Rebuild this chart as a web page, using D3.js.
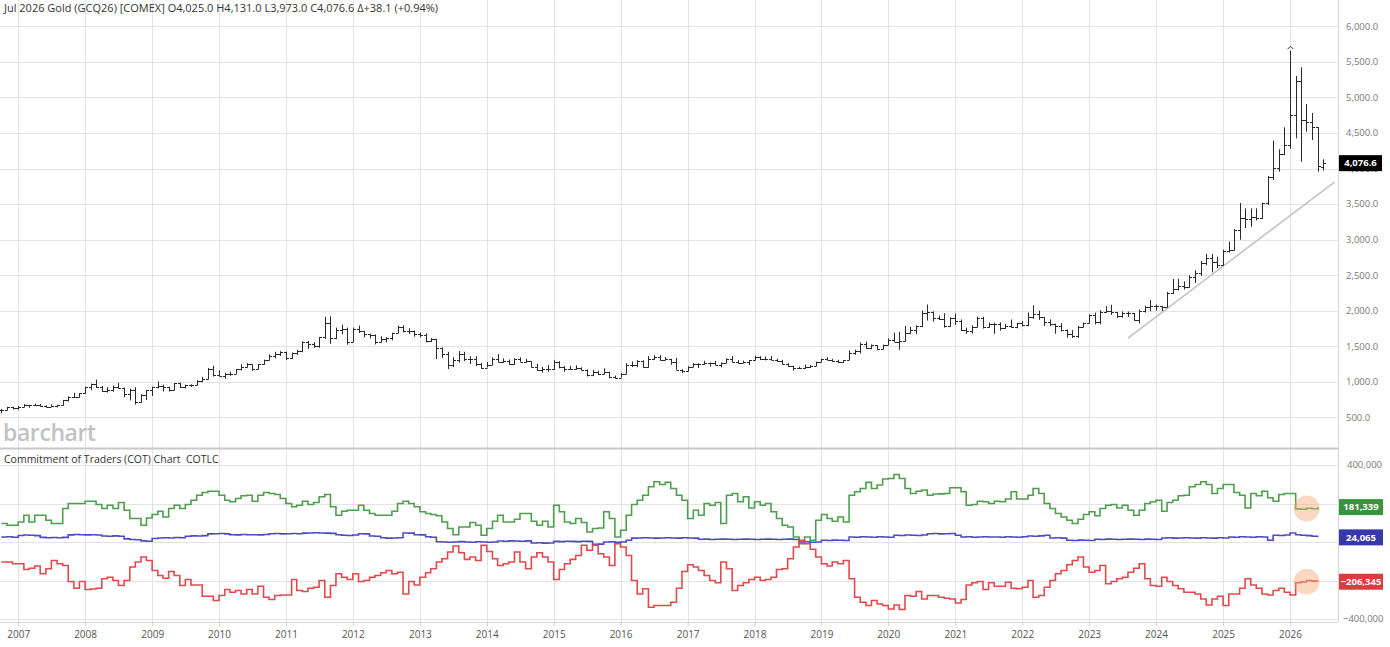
<!DOCTYPE html>
<html lang="en">
<head>
    <meta charset="UTF-8">
    <title>Gold COT</title>
    <script src="https://cdn.jsdelivr.net/npm/d3@7"></script>
    <style>
        body { margin: 0; background: #fff; }
        text { font-family: "Open Sans", sans-serif; }
    </style>
</head>
<body>
    <div id="chart-space"></div>

    <script>
        // monthly bars, Oct 2006 .. Jul 2026
        var months = d3.timeMonth.range(new Date(2006, 9, 1), new Date(2026, 7, 1));

        var opens = [
            599, 606, 648,
            635, 652, 672, 669, 680, 660, 653, 668, 673, 744, 794, 786,
            838, 926, 975, 933, 866, 888, 930, 918, 834, 880, 718, 813,
            884, 928, 942, 924, 887, 979, 927, 955, 955, 1008, 1040, 1182,
            1096, 1081, 1118, 1115, 1180, 1212, 1245, 1181, 1248, 1308, 1359, 1386,
            1421, 1333, 1411, 1439, 1556, 1536, 1500, 1628, 1828, 1624, 1725, 1746,
            1566, 1740, 1710, 1669, 1664, 1562, 1604, 1615, 1691, 1775, 1719, 1712,
            1675, 1662, 1578, 1598, 1476, 1393, 1234, 1314, 1396, 1327, 1323, 1250,
            1202, 1240, 1326, 1284, 1296, 1250, 1322, 1283, 1287, 1210, 1171, 1175,
            1184, 1279, 1213, 1183, 1184, 1190, 1172, 1095, 1135, 1115, 1142, 1065,
            1061, 1118, 1238, 1233, 1293, 1215, 1321, 1351, 1309, 1316, 1277, 1173,
            1152, 1211, 1249, 1249, 1268, 1268, 1242, 1269, 1322, 1280, 1271, 1275,
            1303, 1345, 1318, 1325, 1315, 1299, 1253, 1224, 1201, 1192, 1215, 1222,
            1282, 1321, 1313, 1292, 1284, 1305, 1413, 1437, 1529, 1472, 1513, 1464,
            1517, 1587, 1566, 1577, 1687, 1730, 1781, 1975, 1978, 1895, 1879, 1780,
            1895, 1850, 1728, 1715, 1768, 1905, 1771, 1817, 1818, 1757, 1784, 1775,
            1829, 1796, 1910, 1954, 1911, 1848, 1817, 1782, 1726, 1672, 1640, 1768,
            1826, 1945, 1836, 1986, 1999, 1982, 1929, 1970, 1966, 1867, 1995, 2057,
            2072, 2067, 2054, 2254, 2303, 2346, 2339, 2473, 2537, 2668, 2748, 2680,
            2641, 2835, 2860, 3140, 3305, 3290, 3324, 3300, 3512, 3880, 4005, 4205,
            4332, 4750, 5236, 4690, 4650, 4580, 4025
        ];
        var highs = [
            620, 650, 650,
            660, 690, 672, 695, 690, 673, 684, 678, 747, 796, 848, 842,
            934, 976, 1033, 943, 925, 948, 988, 920, 905, 925, 828, 889,
            933, 1007, 962, 930, 983, 990, 961, 966, 1024, 1071, 1195, 1227,
            1163, 1127, 1145, 1182, 1249, 1266, 1246, 1249, 1313, 1388, 1424, 1432,
            1424, 1414, 1448, 1569, 1577, 1560, 1632, 1917, 1923, 1764, 1804, 1764,
            1764, 1792, 1718, 1679, 1667, 1642, 1629, 1692, 1790, 1797, 1755, 1723,
            1696, 1683, 1617, 1605, 1487, 1424, 1348, 1434, 1424, 1361, 1361, 1267,
            1280, 1345, 1392, 1331, 1315, 1332, 1345, 1324, 1288, 1256, 1209, 1238,
            1307, 1292, 1221, 1225, 1233, 1205, 1175, 1170, 1157, 1192, 1143, 1089,
            1127, 1263, 1287, 1306, 1304, 1362, 1375, 1375, 1352, 1326, 1338, 1180,
            1220, 1264, 1262, 1297, 1273, 1296, 1274, 1331, 1362, 1306, 1299, 1309,
            1366, 1362, 1356, 1365, 1326, 1309, 1264, 1228, 1214, 1243, 1237, 1284,
            1326, 1347, 1324, 1310, 1306, 1442, 1453, 1555, 1566, 1527, 1516, 1524,
            1613, 1691, 1704, 1788, 1775, 1795, 2005, 2089, 1992, 1933, 1966, 1908,
            1962, 1878, 1763, 1797, 1919, 1916, 1835, 1834, 1837, 1813, 1877, 1831,
            1855, 1977, 2079, 2003, 1912, 1880, 1820, 1826, 1735, 1730, 1786, 1833,
            1950, 1975, 2009, 2064, 2085, 1985, 1990, 1990, 1970, 2019, 2072, 2152,
            2088, 2070, 2265, 2448, 2450, 2412, 2500, 2570, 2700, 2801, 2800, 2760,
            2860, 2975, 3150, 3516, 3441, 3441, 3441, 3521, 3896, 4393, 4271, 4581,
            5658, 5302, 5425, 4908, 4782, 4585, 4131
        ];
        var lows = [
            560, 604, 612,
            608, 645, 636, 663, 651, 640, 650, 642, 670, 724, 776, 782,
            836, 884, 915, 858, 849, 862, 907, 786, 740, 681, 705, 746,
            802, 909, 866, 865, 881, 915, 908, 930, 951, 995, 1035, 1075,
            1076, 1045, 1087, 1113, 1162, 1204, 1156, 1175, 1242, 1300, 1330, 1365,
            1308, 1324, 1380, 1418, 1462, 1478, 1480, 1604, 1535, 1602, 1669, 1523,
            1562, 1688, 1628, 1612, 1527, 1553, 1556, 1584, 1686, 1697, 1672, 1636,
            1626, 1555, 1562, 1322, 1337, 1180, 1208, 1271, 1292, 1251, 1221, 1185,
            1202, 1238, 1277, 1268, 1240, 1240, 1281, 1273, 1204, 1161, 1130, 1142,
            1168, 1191, 1141, 1170, 1168, 1162, 1077, 1080, 1098, 1107, 1052, 1046,
            1061, 1108, 1208, 1207, 1200, 1200, 1311, 1301, 1304, 1241, 1171, 1123,
            1147, 1208, 1195, 1242, 1214, 1238, 1204, 1265, 1277, 1260, 1264, 1236,
            1302, 1307, 1303, 1310, 1282, 1246, 1211, 1160, 1180, 1182, 1196, 1221,
            1276, 1311, 1281, 1266, 1267, 1305, 1382, 1400, 1465, 1459, 1446, 1459,
            1517, 1563, 1451, 1567, 1670, 1671, 1770, 1863, 1849, 1873, 1764, 1775,
            1802, 1717, 1676, 1678, 1767, 1750, 1760, 1677, 1721, 1745, 1762, 1753,
            1780, 1783, 1890, 1872, 1787, 1785, 1678, 1709, 1622, 1618, 1617, 1765,
            1823, 1809, 1810, 1969, 1942, 1900, 1903, 1913, 1860, 1823, 1975, 1993,
            2002, 1996, 2050, 2240, 2285, 2300, 2325, 2390, 2490, 2640, 2540, 2600,
            2635, 2820, 2850, 3000, 3164, 3183, 3270, 3290, 3490, 3840, 3957, 4191,
            4280, 4426, 4097, 4519, 4402, 3957, 3973
        ];
        var closes = [
            606, 648, 635,
            652, 672, 669, 680, 660, 653, 668, 673, 744, 794, 786, 838,
            926, 975, 933, 866, 888, 930, 918, 834, 880, 718, 813, 884,
            928, 942, 924, 887, 979, 927, 955, 955, 1008, 1040, 1182, 1096,
            1081, 1118, 1115, 1180, 1212, 1245, 1181, 1248, 1308, 1359, 1386, 1421,
            1333, 1411, 1439, 1556, 1536, 1500, 1628, 1828, 1624, 1725, 1746, 1566,
            1740, 1710, 1669, 1664, 1562, 1604, 1615, 1691, 1775, 1719, 1712, 1675,
            1662, 1578, 1598, 1476, 1393, 1234, 1314, 1396, 1327, 1323, 1250, 1202,
            1240, 1326, 1284, 1296, 1250, 1322, 1283, 1287, 1210, 1171, 1175, 1184,
            1279, 1213, 1183, 1184, 1190, 1172, 1095, 1135, 1115, 1142, 1065, 1061,
            1118, 1238, 1233, 1293, 1215, 1321, 1351, 1309, 1316, 1277, 1173, 1152,
            1211, 1249, 1249, 1268, 1268, 1242, 1269, 1322, 1280, 1271, 1275, 1303,
            1345, 1318, 1325, 1315, 1299, 1253, 1224, 1201, 1192, 1215, 1222, 1282,
            1321, 1313, 1292, 1284, 1305, 1413, 1437, 1529, 1472, 1513, 1464, 1517,
            1587, 1566, 1577, 1687, 1730, 1781, 1975, 1978, 1895, 1879, 1780, 1895,
            1850, 1728, 1715, 1768, 1905, 1771, 1817, 1818, 1757, 1784, 1775, 1829,
            1796, 1910, 1954, 1911, 1848, 1817, 1782, 1726, 1672, 1640, 1768, 1826,
            1945, 1836, 1986, 1999, 1982, 1929, 1970, 1966, 1867, 1995, 2057, 2072,
            2067, 2054, 2254, 2303, 2346, 2339, 2473, 2537, 2668, 2748, 2680, 2641,
            2835, 2860, 3140, 3305, 3290, 3324, 3300, 3512, 3880, 4005, 4205, 4332,
            4750, 5236, 4690, 4650, 4580, 4030, 4076.6
        ];

        // support trend line: [month, price]
        var trendStart = [new Date(2023, 7, 1), 1617];
        var trendEnd = [new Date(2026, 8, 1), 3811];

        // COT net positions (thousands of contracts), Oct 2006 .. Jun 2026
        var largeSpecs = [
            96, 87, 87, 104, 139, 104, 139, 139, 113, 96,
            96, 174, 200, 200, 200, 212, 212, 195, 174, 191,
            174, 205, 165, 122, 122, 87, 125, 143, 160, 130,
            174, 191, 174, 195, 217, 243, 257, 264, 264, 243,
            217, 209, 226, 240, 243, 212, 243, 257, 252, 247,
            226, 200, 183, 191, 212, 195, 205, 235, 247, 183,
            139, 160, 165, 165, 191, 165, 148, 139, 139, 139,
            160, 200, 212, 200, 183, 157, 148, 143, 136, 104,
            70, 38, 78, 78, 101, 87, 35, 70, 108, 139,
            104, 104, 118, 148, 148, 108, 87, 108, 78, 191,
            157, 104, 96, 122, 101, 52, 70, 73, 157, 122,
            26, 61, 139, 195, 217, 243, 287, 313, 299, 310,
            278, 243, 217, 122, 165, 139, 200, 191, 205, 96,
            243, 252, 209, 235, 177, 209, 191, 200, 157, 122,
            87, 78, 26, -9, 26, 9, 113, 143, 122, 108,
            130, 104, 243, 261, 278, 310, 278, 296, 327, 330,
            351, 330, 278, 252, 264, 270, 243, 249, 250, 252,
            282, 282, 261, 191, 195, 212, 209, 200, 212, 209,
            223, 261, 223, 223, 243, 278, 252, 200, 174, 148,
            130, 113, 96, 118, 143, 157, 136, 174, 191, 195,
            177, 191, 165, 139, 165, 200, 209, 217, 160, 205,
            217, 240, 243, 287, 299, 313, 299, 252, 278, 299,
            299, 257, 243, 177, 252, 240, 264, 230, 212, 247,
            252, 252, 172, 170, 175, 173, 181.339
        ];
        var smallTraders = [
            26, 27, 25, 34, 36, 35, 33, 24, 22, 23,
            22, 24, 37, 39, 38, 37, 38, 36, 31, 30,
            32, 30, 16, 13, 12, 6, 4, 18, 21, 22,
            21, 23, 22, 30, 32, 31, 33, 42, 43, 44,
            42, 38, 37, 39, 38, 38, 37, 39, 43, 44,
            42, 43, 44, 43, 46, 47, 48, 47, 46, 45,
            38, 35, 34, 36, 43, 42, 31, 30, 22, 20,
            21, 22, 47, 46, 38, 37, 27, 25, 1, 0,
            -1, 0, 2, 0, -1, 1, 0, -1, 0, 5,
            4, 6, 5, 4, 6, -5, -4, -6, -5, 3,
            2, 4, 3, 2, 4, 3, -12, -11, 0, 1,
            -1, 0, 9, 20, 21, 22, 21, 20, 21, 22,
            21, 20, 22, 21, 20, 14, 15, 13, 14, 15,
            14, 13, 14, 15, 14, 13, 14, 15, 14, 13,
            14, 15, 13, 0, 1, -1, 0, 9, 8, 10,
            9, 8, 26, 25, 27, 26, 25, 27, 26, 25,
            35, 34, 36, 35, 34, 36, 43, 44, 42, 43,
            44, 35, 26, 27, 25, 26, 27, 26, 26, 25,
            27, 26, 25, 27, 31, 30, 32, 35, 21, 22,
            20, 9, 8, 10, 9, 8, 14, 13, 15, 14,
            13, 14, 15, 14, 13, 15, 14, 13, 21, 22,
            20, 21, 22, 21, 20, 22, 21, 20, 22, 21,
            26, 25, 27, 26, 25, 27, 26, 9, 35, 34,
            36, 47, 38, 35, 33, 30, 24.065
        ];
        var commercials = [
            -104, -104, -113, -113, -143, -136, -125, -165, -139, -96,
            -113, -122, -205, -240, -205, -247, -244, -240, -191, -183,
            -200, -226, -200, -130, -104, -78, -96, -148, -174, -188,
            -153, -174, -226, -195, -223, -223, -282, -282, -304, -278,
            -247, -261, -252, -270, -247, -270, -230, -287, -299, -278,
            -275, -275, -195, -252, -257, -240, -235, -200, -287, -226,
            -165, -183, -195, -165, -205, -200, -183, -174, -160, -148,
            -165, -157, -270, -205, -223, -183, -160, -139, -104, -87,
            -52, -21, -56, -90, -78, -96, -17, -49, -87, -122,
            -113, -104, -52, -104, -139, -78, -56, -78, -104, -195,
            -143, -113, -90, -70, -17, -43, -17, -61, -78, -122,
            -9, -26, -70, -200, -270, -243, -339, -330, -330, -330,
            -313, -240, -153, -118, -130, -148, -174, -200, -212, -104,
            -139, -252, -226, -212, -195, -183, -200, -195, -183, -143,
            -139, -87, -26, 9, -9, -38, -78, -113, -125, -104,
            -113, -96, -191, -287, -313, -330, -304, -322, -330, -348,
            -327, -351, -278, -282, -257, -296, -278, -278, -287, -292,
            -296, -317, -299, -223, -212, -205, -247, -212, -230, -230,
            -209, -240, -243, -235, -200, -287, -278, -235, -200, -165,
            -148, -118, -96, -78, -130, -157, -148, -122, -217, -205,
            -191, -183, -157, -136, -113, -191, -226, -230, -183, -205,
            -226, -243, -261, -261, -270, -296, -327, -296, -282, -330,
            -270, -270, -240, -191, -223, -240, -270, -275, -252, -240,
            -261, -275, -212, -208, -200, -203, -206.345
        ];

        var priceTicks = d3.range(500, 6001, 500);
        var cotGrid = [-400, -200, 0, 200, 400];
        var cotLabels = [400, -400];

        var titleText = "Jul 2026 Gold (GCQ26) [COMEX] O4,025.0 H4,131.0 L3,973.0 C4,076.6 \u0394+38.1 (+0.94%)";
        var cotTitle = "Commitment of Traders (COT) Chart  COTLC";

        var width = 1390;
        var height = 647;
        var plotRight = 1338;
        var mainBottom = 448;
        var cotBottom = 622;

        var svg = d3.select("#chart-space")
            .append("svg")
            .attr("width", width)
            .attr("height", height);

        var x = d3.scaleTime()
            .domain([new Date(2007, 0, 1), new Date(2026, 0, 1)])
            .range([18.2, 1290]);
        var yPrice = d3.scaleLinear().domain([0, 6000]).range([453, 26.4]);
        var yCot = d3.scaleLinear().domain([-400, 400]).range([619, 465]);

        var fmtPrice = d3.format(",.1f");
        var fmtCot = function(v) { return d3.format(",")(Math.round(v * 1000)); };
        var px = function(v) { return Math.round(v) + 0.5; };

        //grid
        var years = x.ticks(d3.timeYear.every(1));
        svg.append("g").selectAll("line")
            .data(years)
            .join("line")
            .attr("x1", d => px(x(d))).attr("x2", d => px(x(d)))
            .attr("y1", 0).attr("y2", cotBottom)
            .attr("stroke", "#e3e3e3");

        svg.append("g").selectAll("line")
            .data(priceTicks)
            .join("line")
            .attr("x1", 0).attr("x2", plotRight)
            .attr("y1", d => px(yPrice(d))).attr("y2", d => px(yPrice(d)))
            .attr("stroke", "#e3e3e3");

        svg.append("g").selectAll("line")
            .data(cotGrid)
            .join("line")
            .attr("x1", 0).attr("x2", plotRight)
            .attr("y1", d => px(yCot(d))).attr("y2", d => px(yCot(d)))
            .attr("stroke", "#e3e3e3");

        // panel frame
        svg.append("line").attr("x1", 0).attr("x2", plotRight)
            .attr("y1", mainBottom + 0.5).attr("y2", mainBottom + 0.5)
            .attr("stroke", "#c8c8c8").attr("stroke-width", 2);
        svg.append("line").attr("x1", 0).attr("x2", plotRight)
            .attr("y1", cotBottom + 0.5).attr("y2", cotBottom + 0.5)
            .attr("stroke", "#dcdcdc");
        svg.append("line").attr("x1", plotRight + 0.5).attr("x2", plotRight + 0.5)
            .attr("y1", 0).attr("y2", cotBottom)
            .attr("stroke", "#d5d5d5");

        // price axis labels
        svg.append("g").selectAll("text")
            .data(priceTicks)
            .join("text")
            .attr("x", 1346)
            .attr("y", d => yPrice(d))
            .attr("dy", "0.35em")
            .attr("fill", "#777")
            .style("font-size", "9.5px")
            .text(d => fmtPrice(d));

        svg.append("g").selectAll("text")
            .data(cotLabels)
            .join("text")
            .attr("x", d => d < 0 ? 1343 : 1347)
            .attr("y", d => yCot(d))
            .attr("dy", "0.35em")
            .attr("fill", "#777")
            .style("font-size", "9.5px")
            .text(d => fmtCot(d));

        // x axis
        var xAxis = svg.append("g")
            .attr("transform", "translate(0," + cotBottom + ")")
            .call(d3.axisBottom(x).ticks(d3.timeYear.every(1)).tickFormat(d3.timeFormat("%Y")).tickSize(4).tickPadding(5))
            .call(g => g.select(".domain").remove());
        xAxis.selectAll(".tick line").attr("stroke", "#ccc");
        xAxis.selectAll("text").attr("fill", "#555").style("font-size", "10px")
            .style("font-family", "'Open Sans', sans-serif");

        // trend line
        svg.append("line")
            .attr("x1", x(trendStart[0])).attr("y1", yPrice(trendStart[1]))
            .attr("x2", x(trendEnd[0])).attr("y2", yPrice(trendEnd[1]))
            .attr("stroke", "#c2c2c2").attr("stroke-width", 1.5);

        // OHLC bars
        var bars = svg.append("g").attr("stroke", "#2a2a2a").attr("stroke-width", 1);
        months.forEach(function(m, i) {
            var cx = px(x(m));
            bars.append("line").attr("x1", cx).attr("x2", cx)
                .attr("y1", yPrice(highs[i])).attr("y2", yPrice(lows[i]));
            bars.append("line").attr("x1", cx - 2.5).attr("x2", cx)
                .attr("y1", px(yPrice(opens[i]))).attr("y2", px(yPrice(opens[i])));
            bars.append("line").attr("x1", cx).attr("x2", cx + 2.5)
                .attr("y1", px(yPrice(closes[i]))).attr("y2", px(yPrice(closes[i])));
        });

        // all time high marker
        var topIdx = d3.maxIndex(highs);
        var tx = px(x(months[topIdx])), ty = yPrice(highs[topIdx]) - 3;
        svg.append("path")
            .attr("d", "M" + (tx - 3) + "," + (ty + 1.5) + "L" + tx + "," + (ty - 1.5) + "L" + (tx + 3) + "," + (ty + 1.5))
            .attr("fill", "none").attr("stroke", "#333");

        // COT lines
        var cotSeries = [
            {values: largeSpecs, color: "#4e9e4e", box: "#3a943f"},
            {values: smallTraders, color: "#4b4bc8", box: "#3838ad"},
            {values: commercials, color: "#e5484b", box: "#dc3b3f"}
        ];
        var line = d3.line()
            .x((d, i) => x(months[i]))
            .y(d => yCot(d))
            .curve(d3.curveStepAfter);

        svg.append("g").selectAll("path")
            .data(cotSeries)
            .join("path")
            .attr("d", d => line(d.values))
            .attr("fill", "none")
            .attr("stroke", d => d.color)
            .attr("stroke-width", 1.6);

        // highlight circles on latest readings
        var last = largeSpecs.length - 1;
        var circleX = (x(months[last - 4]) + x(months[last])) / 2;
        svg.append("g").selectAll("circle")
            .data([largeSpecs, commercials])
            .join("circle")
            .attr("cx", circleX)
            .attr("cy", d => yCot(d3.mean(d.slice(last - 4))))
            .attr("r", 13)
            .attr("fill", "#f4a877")
            .attr("fill-opacity", 0.45);

        // last value boxes
        var boxes = svg.append("g").selectAll("g")
            .data(cotSeries)
            .join("g")
            .attr("transform", d => "translate(" + (plotRight + 1) + "," + yCot(d.values[last]) + ")");
        boxes.append("rect").attr("x", 0).attr("y", -8).attr("width", 44).attr("height", 16)
            .attr("fill", d => d.box);
        boxes.append("text").attr("x", 22).attr("dy", "0.35em").attr("text-anchor", "middle")
            .attr("fill", "#fff").style("font-size", "9.5px").style("font-weight", "bold")
            .text(d => fmtCot(d.values[last]));

        var lastClose = closes[closes.length - 1];
        var pbox = svg.append("g").attr("transform", "translate(" + (plotRight + 1) + "," + yPrice(lastClose) + ")");
        pbox.append("rect").attr("x", 0).attr("y", -8).attr("width", 43).attr("height", 16).attr("fill", "#000");
        pbox.append("text").attr("x", 21.5).attr("dy", "0.35em").attr("text-anchor", "middle")
            .attr("fill", "#fff").style("font-size", "9.5px").style("font-weight", "bold")
            .text(fmtPrice(lastClose));

        // titles
        svg.append("text").attr("x", 4).attr("y", 12)
            .attr("fill", "#333").style("font-size", "11px")
            .text(titleText);
        svg.append("text").attr("x", 3).attr("y", 441)
            .attr("fill", "#c2c2c2").style("font-size", "23px").style("font-weight", "600")
            .style("letter-spacing", "-0.4px")
            .text("barchart");
        svg.append("text").attr("x", 4).attr("y", 463)
            .attr("fill", "#333").style("font-size", "10.5px")
            .style("white-space", "pre")
            .text(cotTitle);
    </script>
</body>
</html>
